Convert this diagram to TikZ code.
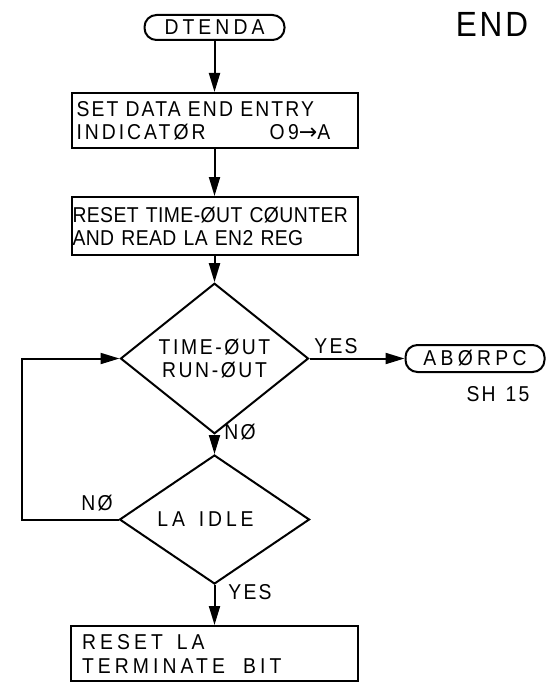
\documentclass[tikz,border=0pt]{standalone}
\usepackage{fontspec}
\setmainfont{Liberation Sans}[FakeStretch=0.9, LetterSpace=6]
\newfontfamily\symfont{DejaVu Sans}
\newcommand\wordgap[1]{\spaceskip=#1\relax}
\usetikzlibrary{shapes.geometric,arrows.meta}
\begin{document}
\begin{tikzpicture}[x=1pt,y=-1pt,
  line width=2pt,
  every node/.style={font=\fontsize{21.5}{23}\selectfont\wordgap{10pt}},
  term/.style={draw, rounded corners=12pt, minimum width=140pt, minimum height=26pt, inner sep=0pt},
  proc/.style={draw, minimum height=55pt, align=left, inner ysep=0pt},
  dec/.style={draw, diamond, inner sep=0pt, align=center},
  flow/.style={-{Triangle[length=19pt,width=11pt]}},
  lbl/.style={inner sep=0pt},
  wide/.style={font=\fontsize{21.5}{23}\selectfont\addfontfeature{LetterSpace=#1}\wordgap{10pt}}]
\useasboundingbox (0,0) rectangle (546,682);
\node[term, minimum height=25pt, wide=19] (start) at (214.5,27.5) {DTENDA};
\node[proc, minimum width=286pt, text width=276pt, inner xsep=5pt, wide=10] (b1) at (214.5,120.5) {SET DATA END ENTRY\\{\addfontfeature{LetterSpace=14}INDICATØR}\hspace{64pt}{\addfontfeature{LetterSpace=16}O9{\symfont\fontsize{22}{23}\selectfont →}A}};
\node[proc, minimum width=286pt, text width=284pt, inner xsep=1pt, minimum height=58pt, font=\fontsize{21.5}{23}\selectfont\addfontfeature{LetterSpace=2}\wordgap{8pt}] (b2) at (214.5,226) {RESET TIME-ØUT CØUNTER\\AND READ LA EN2 REG};
\node[dec, minimum width=188pt, minimum height=113pt, wide=12] (d1) at (214.5,358.5) {TIME-ØUT\\RUN-ØUT};
\node[term, minimum width=139pt, minimum height=27pt, wide=20] (abort) at (475,358.5) {ABØRPC};
\node[lbl, wide=10] (sh) at (498,394) {SH 15};
\node[lbl, wide=10] (yes1) at (336,346) {YES};
\node[lbl, wide=10] (no1) at (240,432) {NØ};
\node[dec, minimum width=190pt, minimum height=111pt, wide=18] (d2) at (214.5,519.5) {LA\hspace{14pt}IDLE\kern18pt};
\node[lbl, wide=10] (no2) at (97,503) {NØ};
\node[lbl, wide=10] (yes2) at (250,592) {YES};
\node[proc, minimum width=287pt, text width=265pt, inner xsep=11pt, font=\fontsize{21.5}{24}\selectfont\addfontfeature{LetterSpace=19}] (b3) at (214.5,653.5) {RESET\hspace{14pt}LA\\TERMINATE\hspace{18pt}BIT};
\node[lbl, font=\fontsize{35}{40}\selectfont\addfontfeature{LetterSpace=8}] (end) at (492,24) {END};
\coordinate (loop) at (22,519.5);
\draw[flow] (start) -- (b1);
\draw[flow] (b1) -- (b2);
\draw[flow] (b2) -- (d1);
\draw[flow] (d1) -- (abort);
\draw[flow] (d1) -- (d2);
\draw[flow] (d2) -- (b3);
\draw[flow] (d2.west) -- (loop) |- (d1.west);
\end{tikzpicture}
\end{document}
